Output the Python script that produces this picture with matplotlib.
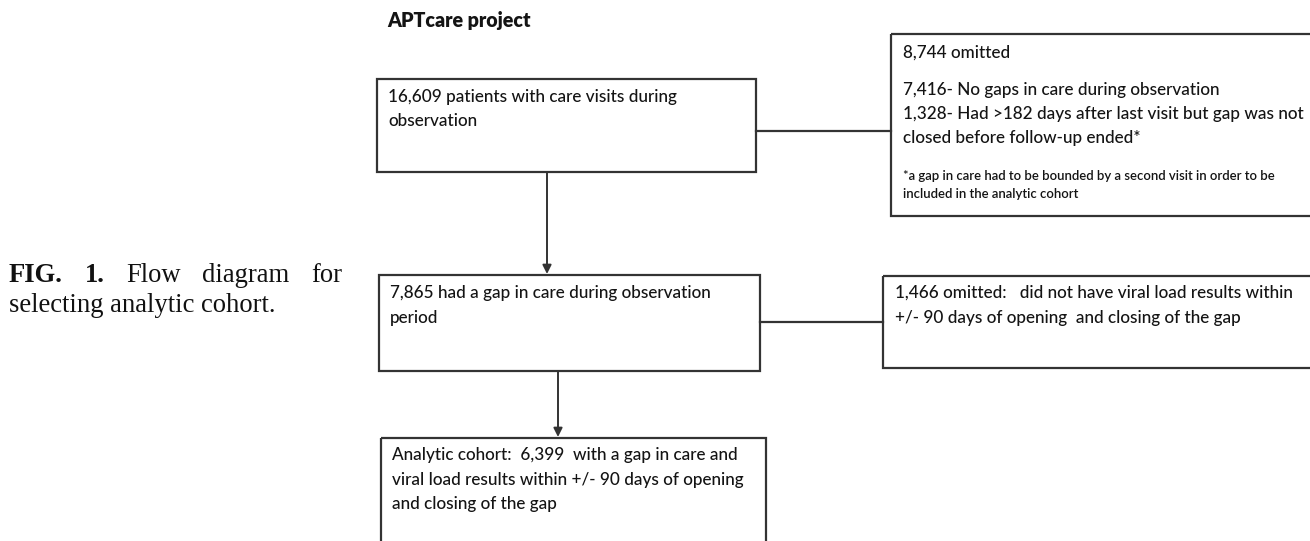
import matplotlib
matplotlib.use("Agg")
import matplotlib.pyplot as plt
from matplotlib.patches import Rectangle

# flow diagram content
title = "APTcare project"
box_texts = [
    ["16,609 patients with care visits during", "observation"],
    ["7,865 had a gap in care during observation", "period"],
    ["Analytic cohort:  6,399  with a gap in care and",
     "viral load results within +/- 90 days of opening",
     "and closing of the gap"],
]
side_texts = [
    ["8,744 omitted", "",
     "7,416- No gaps in care during observation",
     "1,328- Had >182 days after last visit but gap was not",
     "closed before follow-up ended*"],
    ["1,466 omitted:   did not have viral load results within",
     "+/- 90 days of opening  and closing of the gap"],
]
footnote = ["*a gap in care had to be bounded by a second visit in order to be",
            "included in the analytic cohort"]
caption_bold = ["FIG.", "1."]
caption_line1 = ["Flow", "diagram", "for"]
caption_line2 = "selecting analytic cohort."

W, H = 1310, 541
fig = plt.figure(figsize=(W / 100, H / 100), dpi=100)
ax = fig.add_axes([0, 0, 1, 1])
ax.set_xlim(0, W)
ax.set_ylim(H, 0)
ax.axis("off")
renderer = fig.canvas.get_renderer()

LC = "#333333"
TC = "#141414"
SANS = "Lato"
WT = "medium"


def width_of(t):
    bb = t.get_window_extent(renderer=renderer)
    return bb.width


def fit_size(txt, target, **kw):
    t = ax.text(0, 0, txt, fontsize=10, **kw)
    w = width_of(t)
    t.remove()
    return 10 * target / w


def box(x0, y0, x1, y1):
    ax.add_patch(Rectangle((x0, y0), x1 - x0, y1 - y0, fill=False,
                           edgecolor=LC, lw=1.6, clip_on=False))


body = fit_size(box_texts[0][0], 289, family=SANS, weight=WT)

# title
tsize = fit_size(title, 144, family=SANS, weight="heavy")
ax.text(387, 20, title, fontsize=tsize, family=SANS, weight="heavy",
        color=TC, va="center")

# main boxes
main_boxes = [(377, 79, 756, 172), (379, 275, 760, 371), (381, 438, 766, 560)]
main_text_y = [97, 293, 455]
for (x0, y0, x1, y1), lines, ty in zip(main_boxes, box_texts, main_text_y):
    box(x0, y0, x1, y1)
    for i, s in enumerate(lines):
        ax.text(x0 + 11, ty + i * 24.5, s, fontsize=body, family=SANS,
                weight=WT, color=TC, va="center")

# side boxes
side_boxes = [(891, 34, 1320, 216), (883, 276, 1320, 368)]
side_text_y = [53, 293]
for (x0, y0, x1, y1), lines, ty in zip(side_boxes, side_texts, side_text_y):
    box(x0, y0, x1, y1)
    yy = ty
    for i, s in enumerate(lines):
        if s == "":
            yy += 12
            continue
        ax.text(x0 + 12, yy, s, fontsize=body, family=SANS, weight=WT,
                color=TC, va="center")
        yy += 24.5

fsize = fit_size(footnote[0], 372, family=SANS, weight="semibold")
for i, s in enumerate(footnote):
    ax.text(903, 176 + i * 18, s, fontsize=fsize, family=SANS,
            weight="semibold", color=TC, va="center")

# connectors
ax.plot([756, 891], [131, 131], color=LC, lw=1.6)
ax.plot([760, 883], [322, 322], color=LC, lw=1.6)
arrow = dict(arrowstyle="-|>", color=LC, lw=1.4, mutation_scale=13,
             shrinkA=0, shrinkB=0)
ax.annotate("", xy=(547, 274), xytext=(547, 172), arrowprops=arrow)
ax.annotate("", xy=(558, 437), xytext=(558, 371), arrowprops=arrow)

# caption, justified first line
SERIF = "Liberation Serif"
csize = fit_size(caption_line2, 267, family=SERIF)
words = [(w, "bold") for w in caption_bold] + [(w, "normal") for w in caption_line1]
ws = [fit_size(w, 100, family=SERIF, weight=wt) for w, wt in words]
widths = [100 * csize / s for s in ws]
left, right = 9, 342
gap = (right - left - sum(widths)) / (len(words) - 1)
x = left
for (w, wt), wd in zip(words, widths):
    ax.text(x, 276, w, fontsize=csize, family=SERIF, weight=wt, color="#111111",
            va="center")
    x += wd + gap
ax.text(left, 305, caption_line2, fontsize=csize, family=SERIF, color="#111111",
        va="center")

fig.savefig("out.png", dpi=100, facecolor="white")
